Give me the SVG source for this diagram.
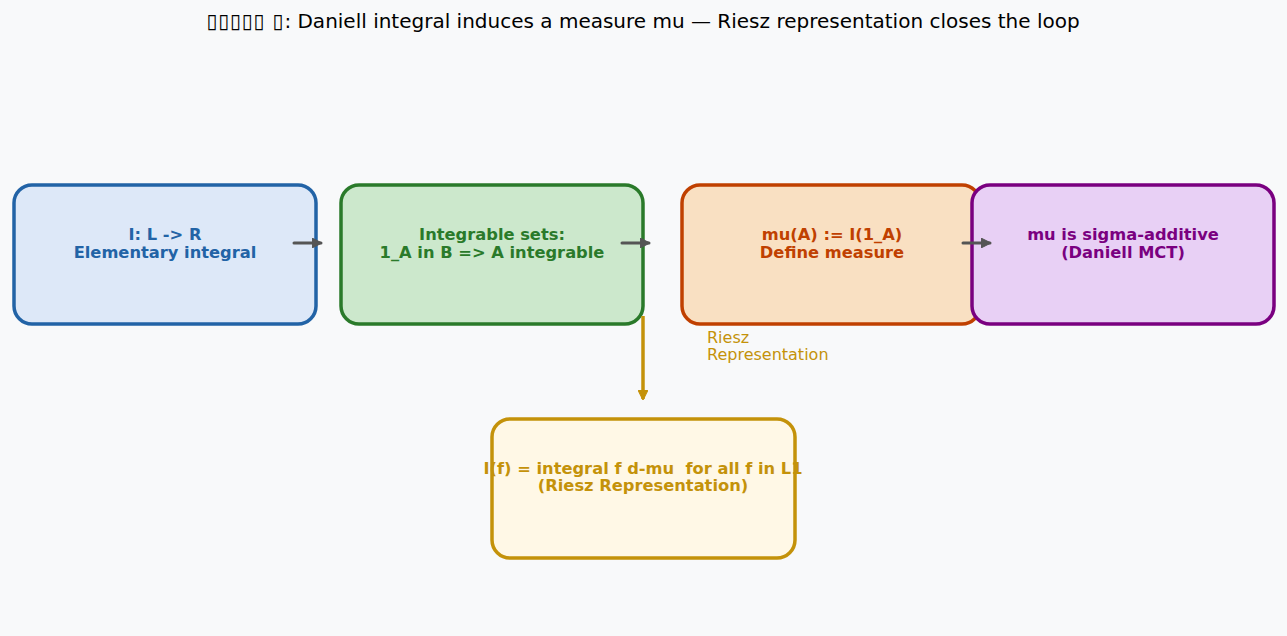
<svg xmlns="http://www.w3.org/2000/svg" width="1287" height="636" viewBox="0 0 1287 636">
<defs>
<style>
.t{font-family:"DejaVu Sans",sans-serif;}
.lbl{font-family:"DejaVu Sans",sans-serif;font-weight:bold;font-size:16.3px;text-anchor:middle;white-space:pre;}
.box{stroke-width:3.5;}
.conn{fill:none;stroke:#555555;stroke-width:3;stroke-linecap:round;}
</style>
<marker id="ah" viewBox="0 0 10 10" refX="9" refY="5" markerWidth="3.3" markerHeight="3.3" orient="auto" markerUnits="strokeWidth">
<path d="M0,0 L10,5 L0,10 z" fill="#555555" stroke="#555555" stroke-width="1" stroke-linejoin="round"/>
</marker>
<marker id="ahy" viewBox="0 0 10 10" refX="9" refY="5" markerWidth="3" markerHeight="3" orient="auto" markerUnits="strokeWidth">
<path d="M0,0 L10,5 L0,10 z" fill="#c4920a" stroke="#c4920a" stroke-width="1" stroke-linejoin="round"/>
</marker>
</defs>
<rect width="1287" height="636" fill="#f8f9fa"/>
<text class="t" x="643" y="28" font-size="20" text-anchor="middle" fill="#000"><tspan letter-spacing="0.8">▯▯▯▯▯ ▯</tspan>: Daniell integral induces a measure mu — Riesz representation closes the loop</text>
<g id="node1">
<rect class="box" x="14" y="185" width="302" height="139" rx="18" fill="#dde8f8" stroke="#2263a6"/>
<text class="lbl" x="165" y="240" fill="#2263a6">I: L -&gt; R</text>
<text class="lbl" x="165" y="258" fill="#2263a6">Elementary integral</text>
</g>
<g id="node2">
<rect class="box" x="341" y="185" width="302" height="139" rx="18" fill="#cce8cc" stroke="#2a7a2a"/>
<text class="lbl" x="492" y="240" fill="#2a7a2a">Integrable sets:</text>
<text class="lbl" x="492" y="258" fill="#2a7a2a">1_A in B =&gt; A integrable</text>
</g>
<g id="node3">
<rect class="box" x="682" y="185" width="298" height="139" rx="18" fill="#f9e0c2" stroke="#c04000"/>
<text class="lbl" x="832" y="240" fill="#c04000">mu(A) := I(1_A)</text>
<text class="lbl" x="832" y="258" fill="#c04000">Define measure</text>
</g>
<g id="node4">
<rect class="box" x="972" y="185" width="302" height="139" rx="18" fill="#e8d0f5" stroke="#7a0080"/>
<text class="lbl" x="1123" y="240" fill="#7a0080">mu is sigma-additive</text>
<text class="lbl" x="1123" y="258" fill="#7a0080">(Daniell MCT)</text>
</g>
<g id="node5">
<rect class="box" x="492" y="419" width="303" height="139" rx="18" fill="#fff8e6" stroke="#c4920a"/>
<text class="lbl" x="643" y="474" fill="#c4920a">I(f) = integral f d-mu  for all f in L1</text>
<text class="lbl" x="643" y="491" fill="#c4920a">(Riesz Representation)</text>
</g>
<g id="connectors">
<line class="conn" x1="294" y1="243" x2="321" y2="243" marker-end="url(#ah)"/>
<line class="conn" x1="622" y1="243" x2="649" y2="243" marker-end="url(#ah)"/>
<line class="conn" x1="963" y1="243" x2="990" y2="243" marker-end="url(#ah)"/>
<line x1="643" y1="316" x2="643" y2="399" stroke="#c4920a" stroke-width="3.5" marker-end="url(#ahy)"/>
<text class="t" x="707" y="343" font-size="16" fill="#c4920a">Riesz</text>
<text class="t" x="707" y="360" font-size="16" fill="#c4920a">Representation</text>
</g>
</svg>
